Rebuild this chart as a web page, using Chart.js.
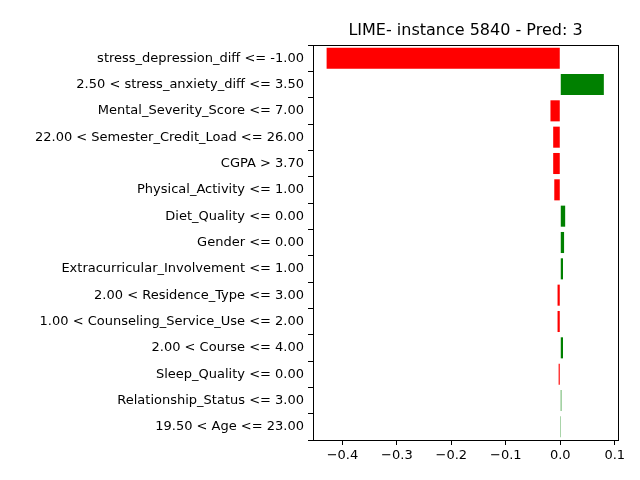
<!DOCTYPE html>
<html>
<head>
<script src="https://cdn.jsdelivr.net/npm/chart.js@4"></script>
<style>
  body { margin: 0; background: #fff; }
  #wrap { width: 640px; height: 480px; }
</style>
</head>
<body>
<div id="wrap"><canvas id="c" width="640" height="480"></canvas></div>
<script>
const features = [
  'stress_depression_diff <= -1.00',
  '2.50 < stress_anxiety_diff <= 3.50',
  'Mental_Severity_Score <= 7.00',
  '22.00 < Semester_Credit_Load <= 26.00',
  'CGPA > 3.70',
  'Physical_Activity <= 1.00',
  'Diet_Quality <= 0.00',
  'Gender <= 0.00',
  'Extracurricular_Involvement <= 1.00',
  '2.00 < Residence_Type <= 3.00',
  '1.00 < Counseling_Service_Use <= 2.00',
  '2.00 < Course <= 4.00',
  'Sleep_Quality <= 0.00',
  'Relationship_Status <= 3.00',
  '19.50 < Age <= 23.00',
];
const weights = [-0.429, 0.080, -0.018, -0.013, -0.013, -0.011, 0.009, 0.007, 0.005, -0.005, -0.005, 0.005, -0.003, 0.002, 0.0003];
const xTicks = [-0.4, -0.3, -0.2, -0.1, 0.0, 0.1];
const titleText = 'LIME- instance 5840 - Pred: 3';

const fontFamily = '"DejaVu Sans", sans-serif';

const frame = {
  id: 'frame',
  afterDraw: (chart) => {
    const { ctx, chartArea: a } = chart;
    ctx.save();
    ctx.strokeStyle = '#000';
    ctx.lineWidth = 1;
    ctx.strokeRect(a.left + 0.5, a.top + 0.5, a.right - a.left, a.bottom - a.top);
    ctx.fillStyle = '#000';
    ctx.font = '16px ' + fontFamily;
    ctx.textAlign = 'center';
    ctx.textBaseline = 'bottom';
    ctx.fillText(titleText, (a.left + a.right) / 2, a.top - 6);
    ctx.restore();
  },
};

new Chart(document.getElementById('c'), {
  type: 'bar',
  plugins: [frame],
  data: {
    labels: features,
    datasets: [{
      data: weights,
      backgroundColor: weights.map((w) => (w < 0 ? '#ff0000' : '#008000')),
      barPercentage: 0.8,
      categoryPercentage: 1.0,
    }],
  },
  options: {
    indexAxis: 'y',
    responsive: false,
    animation: false,
    layout: { padding: { top: 45, right: 22, bottom: 0, left: 0 } },
    plugins: { legend: { display: false }, tooltip: { enabled: false } },
    scales: {
      x: {
        min: -0.454,
        max: 0.106,
        afterBuildTicks: (scale) => {
          scale.ticks = xTicks.map((v) => ({ value: v }));
        },
        ticks: {
          color: '#000',
          font: { family: fontFamily, size: 13 },
          maxRotation: 0,
          callback: (v) => (v < 0 ? '\u2212' + Math.abs(v).toFixed(1) : v.toFixed(1)),
        },
        grid: { drawOnChartArea: false, tickLength: 5, color: '#000' },
        border: { color: '#000' },
        afterFit: (scale) => { scale.height = 40; },
      },
      y: {
        offset: true,
        ticks: { color: '#000', font: { family: fontFamily, size: 13 }, padding: 4 },
        grid: { drawOnChartArea: false, tickLength: 5, color: '#000' },
        border: { color: '#000' },
        afterFit: (scale) => { scale.width = 313; },
      },
    },
  },
});
</script>
</body>
</html>
